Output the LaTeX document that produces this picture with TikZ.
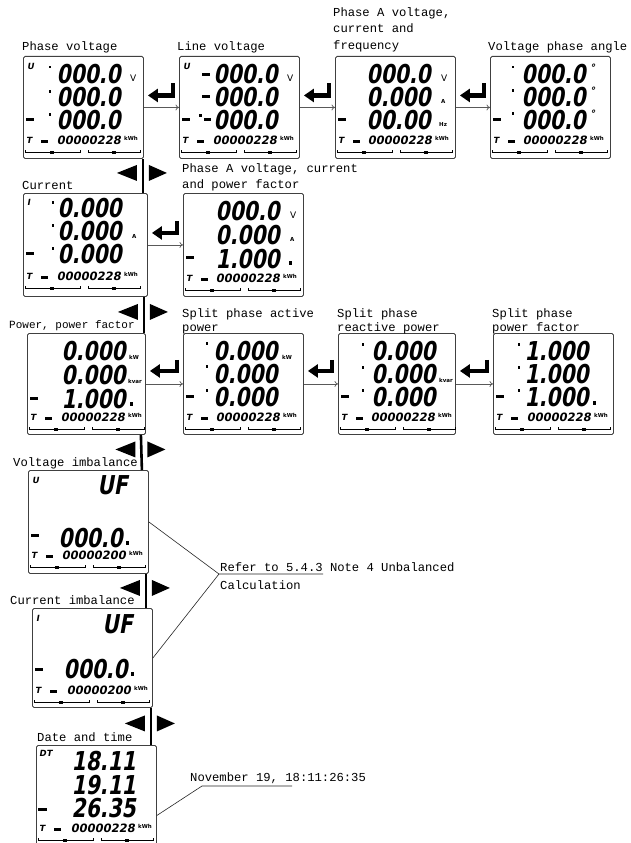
\documentclass[tikz,border=0pt]{standalone}
\usepackage{fontspec}
\usetikzlibrary{arrows.meta}
\newfontfamily\labfont{Liberation Mono}
\newfontfamily\lcdbigfont{DejaVu Sans Bold}[FakeStretch=0.78,FakeSlant=0.18]
\newfontfamily\lcdsmallfont{DejaVu Sans Bold}[FakeSlant=0.18]
\newfontfamily\lcdunitfont{DejaVu Sans}
\frenchspacing
\tikzset{
  lab/.style={font=\labfont\fontsize{12.2}{14}\selectfont, anchor=base west, inner sep=0},
  lcdbox/.style={draw=black!75, line width=0.9pt, rounded corners=1.5pt, minimum width=#1,
    minimum height=102pt, inner sep=0, anchor=north west},
  lcdbox/.default=120pt,
  bigdig/.style={font=\lcdbigfont\fontsize{26}{26}\selectfont, inner sep=0, anchor=east},
  smldig/.style={font=\lcdsmallfont\fontsize{11.5}{12}\selectfont, inner sep=0, anchor=east},
  unitlbl/.style={font=\lcdunitfont\fontsize{9}{9}\selectfont, inner sep=0, anchor=west},
  tinylbl/.style={font=\lcdunitfont\bfseries\fontsize{5.5}{6}\selectfont, inner sep=0, anchor=west},
  icolbl/.style={font=\lcdsmallfont\fontsize{8.5}{9}\selectfont, inner sep=0, anchor=west},
  degl/.style={font=\lcdsmallfont\fontsize{10}{10}\selectfont, inner sep=0, anchor=north west},
  lcdbarline/.style={line width=0.6pt},
  navline/.style={line width=2.6pt},
  flowline/.style={draw=black!65, line width=0.7pt, -{To[length=3.5pt,width=6pt]}},
  retarrow/.style={line width=4.5pt, -{Triangle[length=10pt,width=13pt]}},
  noteline/.style={draw=black!85, line width=0.6pt},
}
\newcommand\lcdmark[3]{\fill (#1,#2) rectangle ++(#3,2.5);}
\newcommand\lcdfoot[3]{%
  \node[icolbl] at (3,#2) {T};
  \fill (18,#2) rectangle (25,#2+3);
  \node[smldig] at (#3,#2) {#1};
  \node[tinylbl] at (#3+3,#2-1.5) {kWh};
  \draw[lcdbarline] (2,#2+10) -- (2,#2+12) -- (57,#2+12) -- (57,#2+10);
  \draw[lcdbarline] (65,#2+10) -- (65,#2+12) -- (117,#2+12) -- (117,#2+10);
  \fill (27,#2+10.5) rectangle ++(4,3);
  \fill (89,#2+10.5) rectangle ++(4,3);}
\newcommand\navpair[1]{%
  \fill ([shift={(-6,-11)}]#1) -- ([shift={(-6,5)}]#1) -- ([shift={(-26,-3)}]#1) -- cycle;
  \fill ([shift={(6,-11)}]#1) -- ([shift={(6,5)}]#1) -- ([shift={(24,-3)}]#1) -- cycle;}
\begin{document}
\begin{tikzpicture}[x=1pt,y=-1pt]
\useasboundingbox (0,0) rectangle (630,843);
\fill[white] (0,0) rectangle (630,843);

% ---------- boxes ----------
\node[lcdbox] (pv) at (23,56) {};
\node[lcdbox] (lv) at (179,56) {};
\node[lcdbox] (pavf) at (335,56) {};
\node[lcdbox] (vpa) at (490,56) {};
\node[lcdbox=124pt, minimum height=103pt] (cur) at (23,193) {};
\node[lcdbox, minimum height=103pt] (pavpf) at (183,193) {};
\node[lcdbox=118pt, minimum height=101pt] (pow) at (27,333) {};
\node[lcdbox, minimum height=101pt] (spa) at (183,333) {};
\node[lcdbox=117pt, minimum height=101pt] (spr) at (338,333) {};
\node[lcdbox, minimum height=101pt] (spf) at (493,333) {};
\node[lcdbox, minimum height=103pt] (vi) at (28,470) {};
\node[lcdbox, minimum height=99pt] (ci) at (32,608) {};
\node[lcdbox, minimum height=100pt] (dt) at (36,745) {};

% ---------- labels ----------
\node[lab] (tpv) at (22,51) {Phase voltage};
\node[lab] (tlv) at (177,51) {Line voltage};
\node[lab] (tpa1) at (333,17) {Phase A voltage,};
\node[lab] (tpa2) at (333,33) {current and};
\node[lab] (tpa3) at (333,49) {frequency};
\node[lab] (tvpa) at (488,51) {Voltage phase angle};
\node[lab] (tcur) at (22,189) {Current};
\node[lab] (tpp1) at (182,172) {Phase A voltage, current};
\node[lab] (tpp2) at (182,188) {and power factor};
\node[lab, font=\labfont\fontsize{11}{13}\selectfont] (tpow) at (9,328) {Power, power factor};
\node[lab] (tspa1) at (182,317) {Split phase active};
\node[lab] (tspa2) at (182,331) {power};
\node[lab] (tspr1) at (337,317) {Split phase};
\node[lab] (tspr2) at (337,331) {reactive power};
\node[lab] (tspf1) at (492,317) {Split phase};
\node[lab] (tspf2) at (492,331) {power factor};
\node[lab] (tvi) at (13,466) {Voltage imbalance};
\node[lab] (tci) at (10,604) {Current imbalance};
\node[lab] (tdt) at (37,741) {Date and time};

% ---------- LCD contents ----------
\begin{scope}[shift={(pv.north west)}]
  \node[icolbl] at (4,10) {U};
  \lcdmark{26}{10}{2}\lcdmark{26}{34}{2}\lcdmark{26}{57}{2}
  \node[bigdig] at (98,18) {000.0};
  \node[bigdig] at (98,41) {000.0};
  \node[bigdig] at (98,64) {000.0};
  \node[unitlbl] at (107,22) {V};
  \lcdmark{3}{62}{8}
  \lcdfoot{00000228}{84}{98}
\end{scope}

\begin{scope}[shift={(lv.north west)}]
  \node[icolbl] at (4,10) {U};
  \lcdmark{23}{17}{8}\lcdmark{23}{39}{8}\lcdmark{25}{62}{7}\lcdmark{20}{58}{3}
  \node[bigdig] at (99,18) {000.0};
  \node[bigdig] at (99,41) {000.0};
  \node[bigdig] at (99,64) {000.0};
  \node[unitlbl] at (108,22) {V};
  \lcdmark{3}{62}{8}
  \lcdfoot{00000228}{84}{98}
\end{scope}

\begin{scope}[shift={(pavf.north west)}]
  \node[bigdig] at (96,18) {000.0};
  \node[bigdig] at (96,41) {0.000};
  \node[bigdig] at (96,64) {00.00};
  \node[unitlbl] at (106,22) {V};
  \node[tinylbl] at (106,45) {A};
  \node[tinylbl] at (104,68) {Hz};
  \lcdmark{3}{62}{8}
  \lcdfoot{00000228}{84}{97}
\end{scope}

\begin{scope}[shift={(vpa.north west)}]
  \lcdmark{22}{10}{2}\lcdmark{22}{33}{2}\lcdmark{22}{56}{2}
  \node[bigdig] at (96,18) {000.0};
  \node[bigdig] at (96,41) {000.0};
  \node[bigdig] at (96,64) {000.0};
  \node[degl] at (100,8) {°};
  \node[degl] at (100,31) {°};
  \node[degl] at (100,54) {°};
  \lcdmark{3}{62}{8}
  \lcdfoot{00000228}{84}{97}
\end{scope}

\begin{scope}[shift={(cur.north west)}]
  \node[icolbl] at (4,9) {I};
  \lcdmark{29}{8}{2}\lcdmark{29}{31}{2}\lcdmark{29}{54}{2}
  \node[bigdig] at (99,15) {0.000};
  \node[bigdig] at (99,38) {0.000};
  \node[bigdig] at (99,61) {0.000};
  \node[tinylbl] at (109,43) {A};
  \lcdmark{3}{59}{8}
  \lcdfoot{00000228}{83}{98}
\end{scope}

\begin{scope}[shift={(pavpf.north west)}]
  \node[bigdig] at (97,18) {000.0};
  \node[bigdig] at (97,42) {0.000};
  \node[bigdig] at (97,66) {1.000};
  \node[unitlbl] at (107,22) {V};
  \node[tinylbl] at (107,46) {A};
  \fill (106,68) rectangle ++(2.5,4);
  \lcdmark{3}{63}{8}
  \lcdfoot{00000228}{85}{97}
\end{scope}

\begin{scope}[shift={(pow.north west)}]
  \node[bigdig] at (99,18) {0.000};
  \node[bigdig] at (99,42) {0.000};
  \node[bigdig] at (99,66) {1.000};
  \node[tinylbl] at (102,24) {kW};
  \node[tinylbl] at (101,48) {kvar};
  \fill (103,69) rectangle ++(2.5,4);
  \lcdmark{3}{64}{8}
  \lcdfoot{00000228}{84}{98}
\end{scope}

\begin{scope}[shift={(spa.north west)}]
  \lcdmark{23}{9}{2}\lcdmark{23}{32}{2}\lcdmark{23}{56}{2}
  \node[bigdig] at (95,18) {0.000};
  \node[bigdig] at (95,41) {0.000};
  \node[bigdig] at (95,64) {0.000};
  \node[tinylbl] at (99,24) {kW};
  \lcdmark{3}{62}{8}
  \lcdfoot{00000228}{84}{97}
\end{scope}

\begin{scope}[shift={(spr.north west)}]
  \lcdmark{24}{10}{2}\lcdmark{24}{33}{2}\lcdmark{24}{56}{2}
  \node[bigdig] at (98,18) {0.000};
  \node[bigdig] at (98,41) {0.000};
  \node[bigdig] at (98,64) {0.000};
  \node[tinylbl] at (101,47) {kvar};
  \lcdmark{3}{62}{8}
  \lcdfoot{00000228}{84}{97}
\end{scope}

\begin{scope}[shift={(spf.north west)}]
  \lcdmark{25}{10}{2}\lcdmark{25}{33}{2}\lcdmark{25}{56}{2}
  \node[bigdig] at (96,18) {1.000};
  \node[bigdig] at (96,41) {1.000};
  \node[bigdig] at (96,64) {1.000};
  \fill (100,68) rectangle ++(2.5,4);
  \lcdmark{3}{62}{8}
  \lcdfoot{00000228}{84}{98}
\end{scope}

\begin{scope}[shift={(vi.north west)}]
  \node[icolbl] at (4,10) {U};
  \node[bigdig] at (100,15) {UF};
  \node[bigdig] at (95,68) {000.0};
  \fill (98,71) rectangle ++(2.5,4);
  \lcdmark{3}{64}{8}
  \lcdfoot{00000200}{85}{98}
\end{scope}

\begin{scope}[shift={(ci.north west)}]
  \node[icolbl] at (4,10) {I};
  \node[bigdig] at (101,16) {UF};
  \node[bigdig] at (96,61) {000.0};
  \fill (99,64) rectangle ++(2.5,4);
  \lcdmark{3}{60}{8}
  \lcdfoot{00000200}{82}{99}
\end{scope}

\begin{scope}[shift={(dt.north west)}]
  \node[icolbl] at (3,8) {DT};
  \node[bigdig] at (100,16) {18.11};
  \node[bigdig] at (100,40) {19.11};
  \node[bigdig] at (100,63) {26.35};
  \lcdmark{2}{63}{9}
  \lcdfoot{00000228}{83}{99}
\end{scope}

% ---------- vertical navigation ----------
\draw[navline] ([xshift=-1pt]pv.south east) -- coordinate (m1) ([xshift=-5pt]cur.north east);
\draw[navline] ([xshift=-4pt]cur.south east) -- coordinate (m2) ([xshift=-2pt]pow.north east);
\draw[navline] ([xshift=-5pt]pow.south east) -- coordinate (m3) ([xshift=-7pt]vi.north east);
\draw[navline] ([xshift=-3pt]vi.south east) -- coordinate (m4) ([xshift=-7pt]ci.north east);
\draw[navline] ([xshift=-2pt]ci.south east) -- coordinate (m5) ([xshift=-6pt]dt.north east);
\navpair{m1}\navpair{m2}\navpair{m3}\navpair{m4}\navpair{m5}

% ---------- horizontal flow ----------
\draw[flowline] (pv.east) -- (lv.west);
\draw[flowline] (lv.east) -- (pavf.west);
\draw[flowline] (pavf.east) -- (vpa.west);
\draw[flowline] (cur.east) -- (pavpf.west);
\draw[flowline] (pow.east) -- (spa.west);
\draw[flowline] (spa.east) -- (spr.west);
\draw[flowline] (spr.east) -- (spf.west);

\draw[retarrow] ([xshift=-6pt,yshift=24pt]lv.west) -- ([xshift=-6pt,yshift=12pt]lv.west) -- ([xshift=4pt,yshift=12pt]pv.east);
\draw[retarrow] ([xshift=-6pt,yshift=24pt]pavf.west) -- ([xshift=-6pt,yshift=12pt]pavf.west) -- ([xshift=4pt,yshift=12pt]lv.east);
\draw[retarrow] ([xshift=-6pt,yshift=24pt]vpa.west) -- ([xshift=-6pt,yshift=12pt]vpa.west) -- ([xshift=4pt,yshift=12pt]pavf.east);
\draw[retarrow] ([xshift=-6pt,yshift=24pt]pavpf.west) -- ([xshift=-6pt,yshift=12pt]pavpf.west) -- ([xshift=4pt,yshift=12pt]cur.east);
\draw[retarrow] ([xshift=-6pt,yshift=24pt]spa.west) -- ([xshift=-6pt,yshift=13pt]spa.west) -- ([xshift=4pt,yshift=13pt]pow.east);
\draw[retarrow] ([xshift=-6pt,yshift=24pt]spr.west) -- ([xshift=-6pt,yshift=13pt]spr.west) -- ([xshift=4pt,yshift=13pt]spa.east);
\draw[retarrow] ([xshift=-6pt,yshift=24pt]spf.west) -- ([xshift=-6pt,yshift=13pt]spf.west) -- ([xshift=4pt,yshift=13pt]spr.east);

% ---------- notes ----------
\coordinate (rc) at (219,574);
\draw[noteline] (vi.east) -- (rc) -- ++(104,0);
\draw[noteline] (ci.east) -- (rc);
\node[lab] (ref1) at (220,571) {Refer to 5.4.3 Note 4 Unbalanced};
\node[lab] (ref2) at (220,589) {Calculation};

\coordinate (dc) at (202,786);
\draw[noteline] ([yshift=-20pt]dt.east) -- (dc) -- ++(90,0);
\node[lab] (dnote) at (190,781) {November 19, 18:11:26:35};
\end{tikzpicture}
\end{document}
